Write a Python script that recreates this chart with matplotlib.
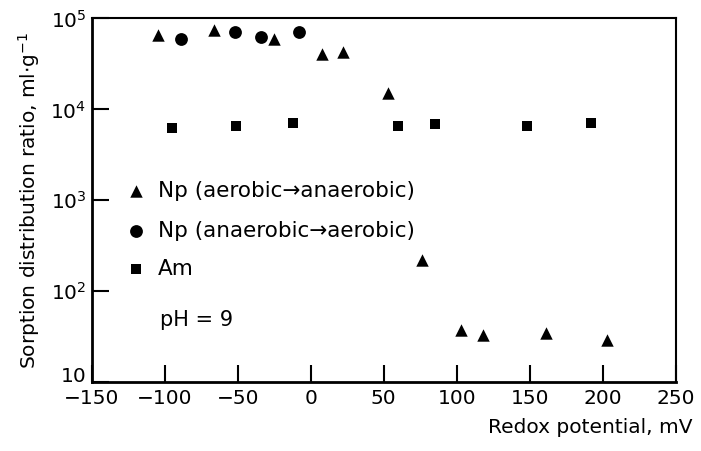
import matplotlib
matplotlib.use('Agg')
import matplotlib.pyplot as plt
from matplotlib.ticker import FixedLocator, FuncFormatter, NullLocator

# Np (aerobic -> anaerobic)
np_aer_x = [-105, -66, -25, 8, 22, 53, 76, 103, 118, 161, 203]
np_aer_y = [6.6e4, 7.4e4, 6.0e4, 4.1e4, 4.3e4, 1.5e4, 220, 37, 33, 35, 29]

# Np (anaerobic -> aerobic)
np_ana_x = [-89, -52, -34, -8]
np_ana_y = [6.0e4, 7.1e4, 6.3e4, 7.1e4]

# Am
am_x = [-95, -51, -12, 60, 85, 148, 192]
am_y = [6.3e3, 6.6e3, 7.0e3, 6.5e3, 6.9e3, 6.5e3, 7.0e3]

x_ticks = [-150, -100, -50, 0, 50, 100, 150, 200, 250]
y_ticks = [10, 1e2, 1e3, 1e4, 1e5]
y_tick_labels = ['10', '$10^2$', '$10^3$', '$10^4$', '$10^5$']

plt.rcParams['font.family'] = 'DejaVu Sans'
plt.rcParams['mathtext.fontset'] = 'dejavusans'

fig = plt.figure(figsize=(7.01, 4.51), dpi=100)
ax = fig.add_axes([0.131, 0.153, 0.833, 0.806])

ax.scatter(np_aer_x, np_aer_y, marker='^', s=80, color='black', linewidths=0)
ax.scatter(np_ana_x, np_ana_y, marker='o', s=85, color='black', linewidths=0)
ax.scatter(am_x, am_y, marker='s', s=60, color='black', linewidths=0)

ax.set_yscale('log')
ax.set_xlim(-150, 250)
ax.set_ylim(10, 1e5)

ax.xaxis.set_major_locator(FixedLocator(x_ticks))
ax.xaxis.set_minor_locator(NullLocator())
ax.xaxis.set_major_formatter(FuncFormatter(lambda v, p: '\u2212%d' % -v if v < 0 else '%d' % v))
ax.yaxis.set_major_locator(FixedLocator(y_ticks))
ax.yaxis.set_minor_locator(NullLocator())
ax.set_yticklabels(y_tick_labels)

ax.tick_params(axis='both', direction='in', length=12, width=1.5, labelsize=14.5, pad=4)
ax.tick_params(axis='x', pad=5)
for side in ['left', 'bottom']:
    ax.spines[side].set_linewidth(2)
for side in ['top', 'right']:
    ax.spines[side].set_linewidth(1.5)
# sit the bottom "10" label on the axis line so it clears "-150"
ax.get_yticklabels()[0].set_va('baseline')

# legend drawn as text + markers like in the original
leg_x = -120
ax.scatter([leg_x], [1.25e3], marker='^', s=80, color='black', linewidths=0)
ax.scatter([leg_x], [4.6e2], marker='o', s=85, color='black', linewidths=0)
ax.scatter([leg_x], [1.75e2], marker='s', s=60, color='black', linewidths=0)
ax.text(-105, 1.25e3, 'Np (aerobic\u2192anaerobic)', fontsize=15.5, va='center')
ax.text(-105, 4.6e2, 'Np (anaerobic\u2192aerobic)', fontsize=15.5, va='center')
ax.text(-105, 1.75e2, 'Am', fontsize=15.5, va='center')
ax.text(-103, 48, 'pH = 9', fontsize=15, va='center')

ax.set_ylabel('Sorption distribution ratio, ml$\\cdot$g$^{-1}$', fontsize=14.5, labelpad=6)
fig.text(0.988, 0.03, 'Redox potential, mV', fontsize=14.5, ha='right', va='bottom')

plt.savefig('out.png', dpi=100)
